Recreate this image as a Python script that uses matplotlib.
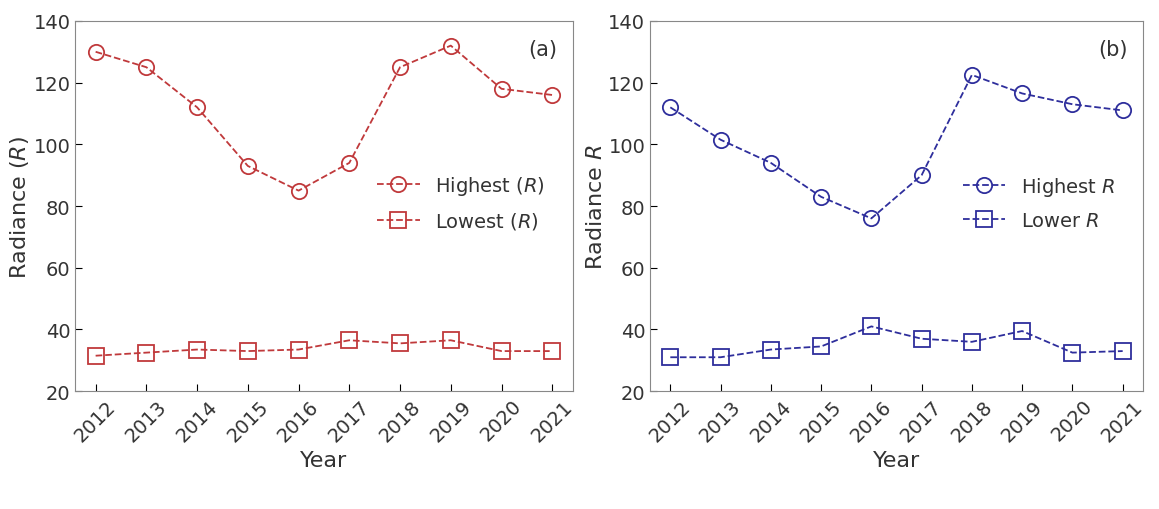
import matplotlib
matplotlib.use("Agg")
import matplotlib.pyplot as plt

years = [2012, 2013, 2014, 2015, 2016, 2017, 2018, 2019, 2020, 2021]
high_a = [130, 125, 112, 93, 85, 94, 125, 132, 118, 116]
low_a = [31.5, 32.5, 33.5, 33, 33.5, 36.5, 35.5, 36.5, 33, 33]
high_b = [112, 101.5, 94, 83, 76, 90, 122.5, 116.5, 113, 111]
low_b = [31, 31, 33.5, 34.5, 41, 37, 36, 39.5, 32.5, 33]

red = "#c0393b"
blue = "#2e2e9c"
txt = "#333333"

fig = plt.figure(figsize=(11.59, 5.1), dpi=100)
ax1 = fig.add_axes([0.065, 0.231, 0.429, 0.726])
ax2 = fig.add_axes([0.561, 0.231, 0.425, 0.726])

def panel(ax, hi, lo, color, labels, ylabel, tag):
    ax.plot(years, hi, "--o", color=color, mfc="none", ms=11, mew=1.3, lw=1.3, label=labels[0])
    ax.plot(years, lo, "--s", color=color, mfc="none", ms=11, mew=1.3, lw=1.3, label=labels[1])
    ax.set_ylim(20, 140)
    ax.set_xlim(2011.6, 2021.4)
    ax.set_xticks(years)
    ax.set_xticklabels([str(y) for y in years], rotation=45)
    ax.tick_params(direction="in", labelsize=14, length=5, labelcolor=txt)
    ax.set_xlabel("Year", fontsize=16, color=txt)
    ax.set_ylabel(ylabel, fontsize=16, color=txt, labelpad=2)
    ax.text(0.97, 0.95, tag, transform=ax.transAxes, ha="right", va="top", fontsize=15, color=txt)
    leg = ax.legend(loc="center right", bbox_to_anchor=(0.98, 0.51), frameon=False, fontsize=14,
                    handlelength=2.2, labelspacing=0.7)
    for t in leg.get_texts():
        t.set_color(txt)
    for s in ax.spines.values():
        s.set_color("#888888")

panel(ax1, high_a, low_a, red, ["Highest ($R$)", "Lowest ($R$)"], "Radiance ($R$)", "(a)")
panel(ax2, high_b, low_b, blue, ["Highest $R$", "Lower $R$"], "Radiance $R$", "(b)")

fig.savefig("out.png", dpi=100)
